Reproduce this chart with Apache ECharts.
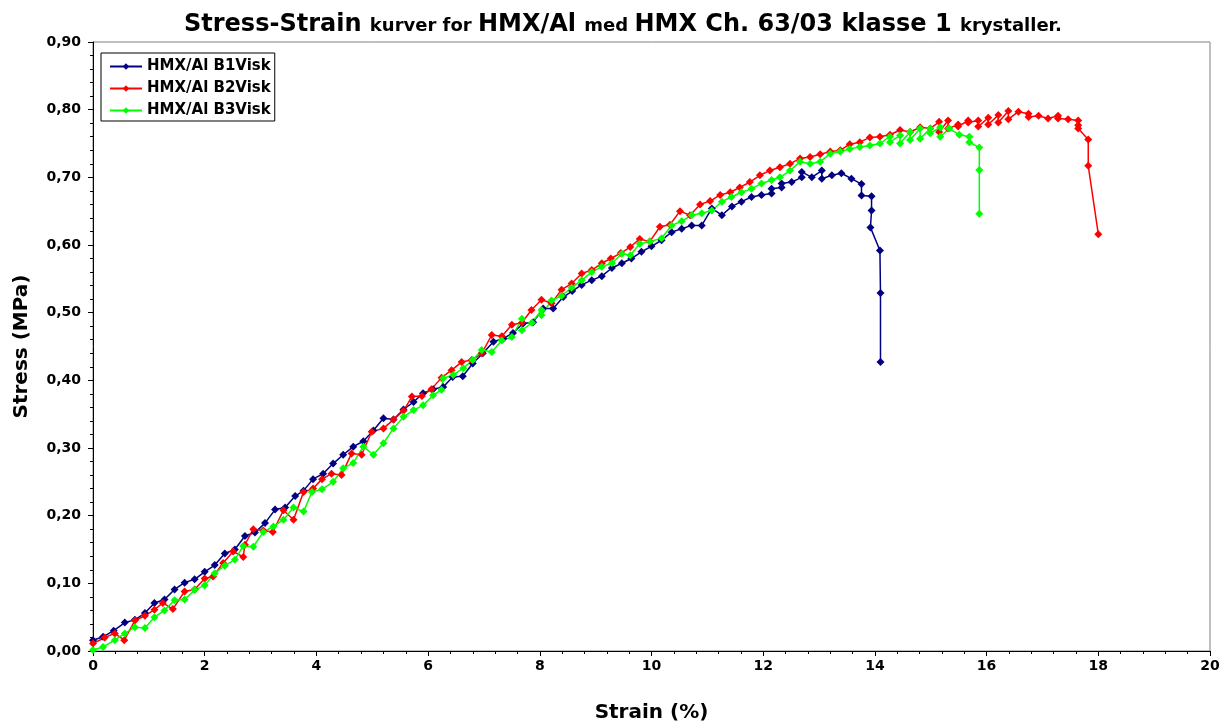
<!DOCTYPE html>
<html>
<head>
<meta charset="utf-8">
<script src="https://cdn.jsdelivr.net/npm/echarts@6/dist/echarts.min.js"></script>
<style>html,body{margin:0;padding:0;background:#fff}#c{width:1224px;height:724px}</style>
</head>
<body>
<div id="c"></div>
<script>
var seriesNames = ['HMX/Al B1Visk', 'HMX/Al B2Visk', 'HMX/Al B3Visk'];
var xTicks = [0, 2, 4, 6, 8, 10, 12, 14, 16, 18, 20];
var yTicks = [0, 0.1, 0.2, 0.3, 0.4, 0.5, 0.6, 0.7, 0.8, 0.9];

var b1Data = [[0,0.016],[0.18,0.021],[0.37,0.03],[0.57,0.042],[0.75,0.046],[0.93,0.056],[1.1,0.071],[1.28,0.076],[1.46,0.091],[1.64,0.101],[1.82,0.106],[2.0,0.117],[2.18,0.127],[2.36,0.144],[2.54,0.15],[2.72,0.17],[2.9,0.175],[3.08,0.189],[3.26,0.209],[3.44,0.212],[3.62,0.229],[3.77,0.237],[3.94,0.254],[4.12,0.262],[4.3,0.277],[4.48,0.29],[4.66,0.302],[4.84,0.31],[5.02,0.326],[5.2,0.344],[5.38,0.342],[5.56,0.357],[5.74,0.368],[5.91,0.381],[6.09,0.387],[6.27,0.39],[6.44,0.405],[6.62,0.406],[6.8,0.425],[6.98,0.44],[7.17,0.457],[7.35,0.462],[7.52,0.47],[7.7,0.484],[7.88,0.486],[8.06,0.506],[8.24,0.506],[8.42,0.523],[8.58,0.532],[8.75,0.541],[8.93,0.548],[9.11,0.554],[9.29,0.566],[9.47,0.573],[9.64,0.58],[9.82,0.59],[10.0,0.598],[10.18,0.607],[10.36,0.619],[10.54,0.624],[10.72,0.629],[10.9,0.629],[11.08,0.654],[11.26,0.644],[11.44,0.657],[11.61,0.664],[11.79,0.671],[11.97,0.674],[12.15,0.676],[12.15,0.683],[12.33,0.685],[12.33,0.691],[12.51,0.693],[12.69,0.7],[12.69,0.708],[12.87,0.7],[13.05,0.71],[13.05,0.698],[13.23,0.703],[13.4,0.706],[13.58,0.698],[13.76,0.69],[13.76,0.673],[13.94,0.672],[13.94,0.651],[13.92,0.626],[14.09,0.592],[14.1,0.529],[14.1,0.427]];

var b2Data = [[0,0.011],[0.21,0.02],[0.39,0.026],[0.56,0.016],[0.75,0.045],[0.93,0.052],[1.1,0.061],[1.25,0.071],[1.43,0.062],[1.64,0.088],[1.82,0.091],[2.0,0.107],[2.15,0.11],[2.33,0.13],[2.51,0.147],[2.69,0.139],[2.72,0.157],[2.87,0.18],[3.05,0.178],[3.22,0.176],[3.41,0.208],[3.59,0.194],[3.77,0.235],[3.94,0.24],[4.1,0.254],[4.27,0.262],[4.45,0.26],[4.63,0.292],[4.81,0.29],[4.99,0.324],[5.2,0.329],[5.38,0.342],[5.56,0.355],[5.71,0.376],[5.89,0.377],[6.06,0.387],[6.24,0.404],[6.42,0.415],[6.6,0.427],[6.78,0.43],[6.96,0.44],[7.14,0.467],[7.32,0.465],[7.5,0.482],[7.68,0.485],[7.85,0.504],[8.03,0.519],[8.21,0.514],[8.39,0.534],[8.57,0.543],[8.75,0.558],[8.93,0.563],[9.11,0.573],[9.27,0.58],[9.45,0.588],[9.62,0.597],[9.79,0.609],[9.97,0.605],[10.15,0.627],[10.33,0.63],[10.51,0.65],[10.69,0.644],[10.87,0.66],[11.05,0.665],[11.23,0.674],[11.41,0.678],[11.58,0.685],[11.76,0.693],[11.94,0.703],[12.12,0.71],[12.3,0.715],[12.48,0.72],[12.66,0.728],[12.84,0.73],[13.02,0.734],[13.2,0.738],[13.38,0.74],[13.55,0.749],[13.73,0.752],[13.91,0.759],[14.09,0.76],[14.27,0.763],[14.45,0.77],[14.63,0.767],[14.81,0.774],[14.99,0.772],[15.15,0.782],[15.15,0.767],[15.31,0.784],[15.31,0.772],[15.49,0.778],[15.49,0.775],[15.67,0.784],[15.67,0.781],[15.85,0.784],[15.85,0.775],[16.03,0.788],[16.03,0.778],[16.21,0.792],[16.21,0.781],[16.39,0.798],[16.39,0.786],[16.57,0.797],[16.75,0.794],[16.75,0.789],[16.93,0.791],[17.1,0.787],[17.28,0.791],[17.28,0.787],[17.46,0.786],[17.64,0.784],[17.64,0.777],[17.64,0.772],[17.82,0.756],[17.82,0.717],[18.0,0.616]];

var b3Data = [[0,0.0015],[0.18,0.006],[0.39,0.016],[0.57,0.026],[0.75,0.035],[0.93,0.034],[1.1,0.05],[1.28,0.06],[1.46,0.075],[1.64,0.076],[1.82,0.09],[2.0,0.097],[2.18,0.115],[2.36,0.126],[2.54,0.135],[2.69,0.155],[2.87,0.154],[3.05,0.176],[3.23,0.184],[3.41,0.194],[3.59,0.212],[3.77,0.206],[3.92,0.235],[4.1,0.239],[4.3,0.25],[4.48,0.27],[4.66,0.278],[4.84,0.302],[5.02,0.29],[5.2,0.307],[5.38,0.329],[5.56,0.346],[5.74,0.356],[5.91,0.363],[6.09,0.378],[6.24,0.386],[6.27,0.403],[6.45,0.408],[6.63,0.418],[6.8,0.43],[6.96,0.445],[7.14,0.442],[7.32,0.459],[7.5,0.464],[7.68,0.491],[7.68,0.474],[7.86,0.485],[8.03,0.504],[8.03,0.496],[8.21,0.518],[8.39,0.525],[8.57,0.537],[8.75,0.548],[8.93,0.56],[9.11,0.568],[9.29,0.573],[9.47,0.587],[9.62,0.585],[9.79,0.602],[9.97,0.605],[10.18,0.61],[10.36,0.629],[10.54,0.635],[10.72,0.644],[10.9,0.647],[11.08,0.651],[11.26,0.664],[11.43,0.671],[11.61,0.678],[11.79,0.683],[11.97,0.691],[12.15,0.696],[12.3,0.7],[12.48,0.71],[12.66,0.723],[12.84,0.72],[13.02,0.723],[13.2,0.735],[13.38,0.738],[13.55,0.742],[13.73,0.745],[13.91,0.747],[14.09,0.75],[14.27,0.76],[14.27,0.752],[14.45,0.762],[14.45,0.75],[14.63,0.767],[14.63,0.755],[14.81,0.772],[14.81,0.757],[14.99,0.772],[14.99,0.765],[15.17,0.774],[15.17,0.76],[15.33,0.772],[15.51,0.763],[15.69,0.76],[15.69,0.752],[15.87,0.744],[15.87,0.711],[15.87,0.646]];

var colors = ['#000080', '#FF0000', '#00FF00'];
var FONT = '"DejaVu Sans", sans-serif';

function mkSeries(name, data, color) {
  return {
    name: name, type: 'line', data: data,
    symbol: 'diamond', symbolSize: 8, showSymbol: true,
    lineStyle: {color: color, width: 1.5},
    itemStyle: {color: color},
    emphasis: {disabled: true},
    animation: false
  };
}

var chart = echarts.init(document.getElementById('c'), null, {renderer: 'canvas'});
chart.setOption({
  backgroundColor: '#fff',
  animation: false,
  textStyle: {fontFamily: FONT},
  title: {
    left: 179, top: 8,
    text: '{b|Stress-Strain }{s|kurver for }{b|HMX/Al }{s|med }{b|HMX Ch. 63/03 klasse 1 }{s|krystaller.}',
    textStyle: {
      rich: {
        b: {fontFamily: FONT, fontWeight: 'bold', fontSize: 24, color: '#000', verticalAlign: 'bottom'},
        s: {fontFamily: FONT, fontWeight: 'bold', fontSize: 18, color: '#000', verticalAlign: 'bottom', padding: [0, 0, 2, 0]}
      }
    }
  },
  legend: {
    left: 101, top: 53, orient: 'vertical',
    data: seriesNames,
    backgroundColor: '#fff', borderColor: '#000', borderWidth: 1,
    padding: [6, 4, 3, 8], itemGap: 7, itemWidth: 32, itemHeight: 8,
    textStyle: {fontFamily: FONT, fontWeight: 'bold', fontSize: 15, color: '#000'}
  },
  grid: {
    left: 93, right: 14, top: 42, bottom: 73,
    outerBoundsMode: 'none', containLabel: false,
    show: true, borderColor: '#808080', borderWidth: 1, backgroundColor: '#fff'
  },
  xAxis: {
    type: 'value', min: 0, max: 20, interval: 2,
    name: 'Strain (%)', nameLocation: 'middle', nameGap: 52,
    nameTextStyle: {fontFamily: FONT, fontWeight: 'bold', fontSize: 20, color: '#000'},
    axisLine: {show: true, onZero: false, lineStyle: {color: '#000', width: 1}},
    axisTick: {show: true, inside: false, length: 5, lineStyle: {color: '#000'}},
    minorTick: {show: true, splitNumber: 5, length: 3, lineStyle: {color: '#000'}},
    splitLine: {show: false},
    axisLabel: {fontFamily: FONT, fontWeight: 'bold', fontSize: 14, color: '#000', margin: 8,
      formatter: function (v) { return xTicks.indexOf(v) >= 0 ? String(v) : ''; }}
  },
  yAxis: {
    type: 'value', min: 0, max: 0.9, interval: 0.1,
    name: 'Stress (MPa)', nameLocation: 'middle', nameGap: 61, nameRotate: 90,
    nameTextStyle: {fontFamily: FONT, fontWeight: 'bold', fontSize: 20, color: '#000'},
    axisLine: {show: true, onZero: false, lineStyle: {color: '#000', width: 1}},
    axisTick: {show: true, inside: false, length: 5, lineStyle: {color: '#000'}},
    minorTick: {show: true, splitNumber: 5, length: 3, lineStyle: {color: '#000'}},
    splitLine: {show: false},
    axisLabel: {fontFamily: FONT, fontWeight: 'bold', fontSize: 14, color: '#000', margin: 12,
      formatter: function (v) { return v.toFixed(2).replace('.', ','); }}
  },
  series: [
    mkSeries(seriesNames[0], b1Data, colors[0]),
    mkSeries(seriesNames[1], b2Data, colors[1]),
    mkSeries(seriesNames[2], b3Data, colors[2])
  ]
});
</script>
</body>
</html>
